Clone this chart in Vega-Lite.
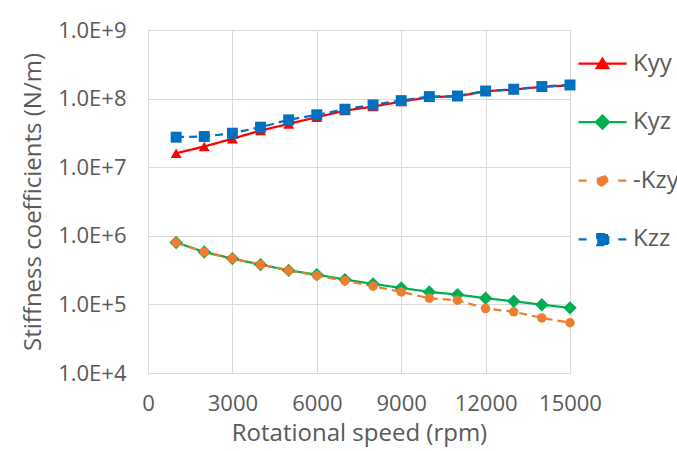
{
  "$schema": "https://vega.github.io/schema/vega-lite/v6.json",
  "width": 422,
  "height": 343,
  "autosize": "none",
  "padding": {"left": 148, "top": 30, "right": 107, "bottom": 78},
  "background": "white",
  "config": {
    "view": {"stroke": "#D9D9D9", "strokeWidth": 1},
    "font": "Open Sans",
    "axis": {
      "labelFont": "Open Sans", "titleFont": "Open Sans",
      "labelColor": "#595959", "titleColor": "#595959",
      "labelFontSize": 22, "titleFontSize": 24, "titleFontWeight": "normal",
      "gridColor": "#D9D9D9", "gridWidth": 1, "domainColor": "#D9D9D9", "domainWidth": 1,
      "ticks": false, "tickSize": 0
    },
    "legend": {"labelFont": "Open Sans"}
  },
  "data": {"values": [
    {"rpm": 1000, "series": "Kyy", "value": 1.6e7},
    {"rpm": 2000, "series": "Kyy", "value": 2.0e7},
    {"rpm": 3000, "series": "Kyy", "value": 2.6e7},
    {"rpm": 4000, "series": "Kyy", "value": 3.42e7},
    {"rpm": 5000, "series": "Kyy", "value": 4.28e7},
    {"rpm": 6000, "series": "Kyy", "value": 5.36e7},
    {"rpm": 7000, "series": "Kyy", "value": 6.68e7},
    {"rpm": 8000, "series": "Kyy", "value": 7.65e7},
    {"rpm": 9000, "series": "Kyy", "value": 9.04e7},
    {"rpm": 10000, "series": "Kyy", "value": 1.05e8},
    {"rpm": 11000, "series": "Kyy", "value": 1.08e8},
    {"rpm": 12000, "series": "Kyy", "value": 1.28e8},
    {"rpm": 13000, "series": "Kyy", "value": 1.36e8},
    {"rpm": 14000, "series": "Kyy", "value": 1.48e8},
    {"rpm": 15000, "series": "Kyy", "value": 1.56e8},
    {"rpm": 1000, "series": "Kyz", "value": 8.0e5},
    {"rpm": 2000, "series": "Kyz", "value": 5.8e5},
    {"rpm": 3000, "series": "Kyz", "value": 4.65e5},
    {"rpm": 4000, "series": "Kyz", "value": 3.8e5},
    {"rpm": 5000, "series": "Kyz", "value": 3.13e5},
    {"rpm": 6000, "series": "Kyz", "value": 2.72e5},
    {"rpm": 7000, "series": "Kyz", "value": 2.3e5},
    {"rpm": 8000, "series": "Kyz", "value": 1.99e5},
    {"rpm": 9000, "series": "Kyz", "value": 1.74e5},
    {"rpm": 10000, "series": "Kyz", "value": 1.52e5},
    {"rpm": 11000, "series": "Kyz", "value": 1.39e5},
    {"rpm": 12000, "series": "Kyz", "value": 1.23e5},
    {"rpm": 13000, "series": "Kyz", "value": 1.11e5},
    {"rpm": 14000, "series": "Kyz", "value": 9.9e4},
    {"rpm": 15000, "series": "Kyz", "value": 8.9e4},
    {"rpm": 1000, "series": "-Kzy", "value": 8.0e5},
    {"rpm": 2000, "series": "-Kzy", "value": 5.8e5},
    {"rpm": 3000, "series": "-Kzy", "value": 4.65e5},
    {"rpm": 4000, "series": "-Kzy", "value": 3.8e5},
    {"rpm": 5000, "series": "-Kzy", "value": 3.13e5},
    {"rpm": 6000, "series": "-Kzy", "value": 2.62e5},
    {"rpm": 7000, "series": "-Kzy", "value": 2.22e5},
    {"rpm": 8000, "series": "-Kzy", "value": 1.84e5},
    {"rpm": 9000, "series": "-Kzy", "value": 1.52e5},
    {"rpm": 10000, "series": "-Kzy", "value": 1.23e5},
    {"rpm": 11000, "series": "-Kzy", "value": 1.15e5},
    {"rpm": 12000, "series": "-Kzy", "value": 8.7e4},
    {"rpm": 13000, "series": "-Kzy", "value": 7.8e4},
    {"rpm": 14000, "series": "-Kzy", "value": 6.35e4},
    {"rpm": 15000, "series": "-Kzy", "value": 5.4e4},
    {"rpm": 1000, "series": "Kzz", "value": 2.74e7},
    {"rpm": 2000, "series": "Kzz", "value": 2.8e7},
    {"rpm": 3000, "series": "Kzz", "value": 3.13e7},
    {"rpm": 4000, "series": "Kzz", "value": 3.83e7},
    {"rpm": 5000, "series": "Kzz", "value": 4.9e7},
    {"rpm": 6000, "series": "Kzz", "value": 5.8e7},
    {"rpm": 7000, "series": "Kzz", "value": 7.0e7},
    {"rpm": 8000, "series": "Kzz", "value": 8.1e7},
    {"rpm": 9000, "series": "Kzz", "value": 9.35e7},
    {"rpm": 10000, "series": "Kzz", "value": 1.07e8},
    {"rpm": 11000, "series": "Kzz", "value": 1.09e8},
    {"rpm": 12000, "series": "Kzz", "value": 1.29e8},
    {"rpm": 13000, "series": "Kzz", "value": 1.37e8},
    {"rpm": 14000, "series": "Kzz", "value": 1.5e8},
    {"rpm": 15000, "series": "Kzz", "value": 1.58e8}
  ]},
  "encoding": {
    "x": {
      "field": "rpm", "type": "quantitative", "title": "Rotational speed (rpm)",
      "scale": {"domain": [0, 15000], "nice": false, "zero": false},
      "axis": {"values": [0, 3000, 6000, 9000, 12000, 15000], "format": "d", "labelPadding": 20, "titlePadding": 7, "labelFlush": false}
    },
    "y": {
      "field": "value", "type": "quantitative", "title": "Stiffness coefficients (N/m)",
      "scale": {"type": "log", "domain": [10000, 1000000000], "nice": false},
      "axis": {"values": [10000, 100000, 1000000, 10000000, 100000000, 1000000000],
        "labelExpr": "'1.0E+' + round(log(datum.value) / LN10)", "labelPadding": 22, "titlePadding": 12}
    }
  },
  "layer": [
    {
      "mark": {"type": "line", "strokeWidth": 2.25},
      "encoding": {
        "color": {
          "field": "series", "type": "nominal",
          "scale": {"domain": ["Kyy", "Kyz", "-Kzy", "Kzz"], "range": ["#FF0000", "#00B050", "#ED7D31", "#0070C0"]},
          "legend": {
            "title": null, "orient": "none", "legendX": 429, "legendY": 8, "padding": 0,
            "symbolSize": 2304, "rowPadding": 20.6, "labelFontSize": 24, "labelColor": "#595959",
            "labelOffset": 5, "symbolStrokeWidth": 2.25, "labelLimit": 200,
            "encode": {"symbols": {"update": {
              "shape": {"signal": "datum.value === 'Kyy' ? 'M-1,0H1M0,-0.2L0.24,0.19L-0.24,0.19Z' : datum.value === 'Kyz' ? 'M-1,0H1M0,-0.27L0.27,0L0,0.27L-0.27,0Z' : datum.value === '-Kzy' ? 'M-1,0H-0.55M0.66,0H1M-0.2,0A0.2,0.2 0 1,0 0.2,0A0.2,0.2 0 1,0 -0.2,0Z' : 'M-1,0H-0.55M0.66,0H1M-0.22,-0.22H0.24V0.24H-0.22Z'"},
              "fill": {"scale": "color", "field": "value"},
              "stroke": {"scale": "color", "field": "value"},
              "strokeWidth": {"value": 2.25},
              "strokeDash": {"value": [1, 0]},
              "size": {"value": 2304},
              "opacity": {"value": 1},
              "fillOpacity": {"value": 1},
              "strokeOpacity": {"value": 1}
            }}}
          }
        },
        "strokeDash": {
          "field": "series", "type": "nominal",
          "scale": {"domain": ["Kyy", "Kyz", "-Kzy", "Kzz"], "range": [[1, 0], [1, 0], [8, 5], [8, 5]]},
          "legend": null
        }
      }
    },
    {
      "transform": [{"filter": "datum.series === 'Kyy'"}],
      "mark": {"type": "point", "filled": true, "opacity": 1, "shape": "triangle-up", "size": 120},
      "encoding": {"color": {"field": "series", "type": "nominal", "legend": null}}
    },
    {
      "transform": [{"filter": "datum.series === 'Kyz'"}],
      "mark": {"type": "point", "filled": true, "opacity": 1, "shape": "diamond", "size": 180},
      "encoding": {"color": {"field": "series", "type": "nominal", "legend": null}}
    },
    {
      "transform": [{"filter": "datum.series === '-Kzy'"}],
      "mark": {"type": "point", "filled": true, "opacity": 1, "shape": "circle", "size": 90},
      "encoding": {"color": {"field": "series", "type": "nominal", "legend": null}}
    },
    {
      "transform": [{"filter": "datum.series === 'Kzz'"}],
      "mark": {"type": "point", "filled": true, "opacity": 1, "shape": "square", "size": 120},
      "encoding": {"color": {"field": "series", "type": "nominal", "legend": null}}
    }
  ]
}
